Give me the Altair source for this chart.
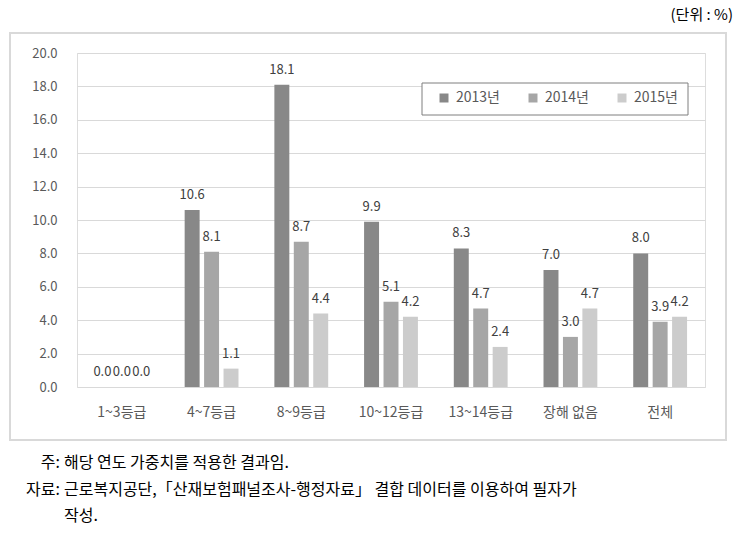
import altair as alt
import pandas as pd

categories = ["1~3등급", "4~7등급", "8~9등급", "10~12등급", "13~14등급", "장해 없음", "전체"]
years = ["2013년", "2014년", "2015년"]
v2013 = [0.0, 10.6, 18.1, 9.9, 8.3, 7.0, 8.0]
v2014 = [0.0, 8.1, 8.7, 5.1, 4.7, 3.0, 3.9]
v2015 = [0.0, 1.1, 4.4, 4.2, 2.4, 4.7, 4.2]
y_ticks = [0, 2, 4, 6, 8, 10, 12, 14, 16, 18, 20]
colors = ["#888888", "#a6a6a6", "#cccccc"]
unit_text = "(단위 : %)"
note_heads = ["주:", "자료:"]
note_lines = [
    "해당 연도 가중치를 적용한 결과임.",
    "근로복지공단,「산재보험패널조사-행정자료」 결합 데이터를 이용하여 필자가",
    "작성.",
]

FONT = "Noto Sans CJK KR"

rows = []
for yr, vals in zip(years, [v2013, v2014, v2015]):
    for c, v in zip(categories, vals):
        rows.append({"category": c, "year": yr, "value": v})
df = pd.DataFrame(rows)

W, H = 628, 334

x = alt.X("category:N", sort=categories,
          scale=alt.Scale(paddingInner=0.4, paddingOuter=0.2),
          axis=alt.Axis(title=None, labelAngle=0, domain=False, ticks=False,
                        labelPadding=18, labelFontSize=14, labelColor="#595959",
                        labelFont=FONT))
y = alt.Y("value:Q", scale=alt.Scale(domain=[0, 20], nice=False),
          axis=alt.Axis(title=None, values=y_ticks, tickCount=11, format=".1f",
                        domain=False, ticks=False, labelPadding=20, grid=True,
                        gridColor="#d9d9d9", labelOverlap=False, labelFontSize=13,
                        labelColor="#595959", labelFont=FONT))
xo = alt.XOffset("year:N", sort=years,
                 scale=alt.Scale(paddingInner=0.23, paddingOuter=0))
color = alt.Color("year:N", sort=years,
                  scale=alt.Scale(domain=years, range=colors),
                  legend=alt.Legend(title=None, orient="none", legendX=360, legendY=38,
                                    direction="horizontal", symbolType="square",
                                    symbolSize=81, symbolStrokeWidth=0,
                                    labelFontSize=14, labelColor="#595959",
                                    labelFont=FONT, labelOffset=5,
                                    columnPadding=26, padding=0))

base = alt.Chart(df)

outer = alt.Chart(pd.DataFrame({"k": [0]})).mark_rect(
    fill=None, stroke="#d9d9d9", strokeWidth=2
).encode(x=alt.value(-67), x2=alt.value(649), y=alt.value(-20), y2=alt.value(387))

bars = base.mark_bar().encode(x=x, y=y, xOffset=xo, color=color)

labels = base.mark_text(baseline="bottom", dy=-8, fontSize=13, color="#404040",
                        font=FONT).encode(
    x=x, y=y, xOffset=xo,
    text=alt.Text("value:Q", format=".1f"))

legend_box = alt.Chart(pd.DataFrame({"k": [0]})).mark_rect(
    fill="white", stroke="#7f7f7f", strokeWidth=1
).encode(x=alt.value(345), x2=alt.value(611), y=alt.value(30), y2=alt.value(62))

unit = alt.Chart(pd.DataFrame({"t": [unit_text]})).mark_text(
    align="right", baseline="middle", fontSize=15, color="#000000", font=FONT
).encode(x=alt.value(656), y=alt.value(-38), text="t:N")

heads = alt.Chart(pd.DataFrame({"t": note_heads, "yy": [410, 437]})).mark_text(
    align="right", baseline="middle", fontSize=16, color="#000000", font=FONT
).encode(x=alt.value(-17), y=alt.Y("yy:Q", scale=None), text="t:N")

bodies = alt.Chart(pd.DataFrame({"t": note_lines, "yy": [410, 437, 463]})).mark_text(
    align="left", baseline="middle", fontSize=16, color="#000000", font=FONT
).encode(x=alt.value(-13), y=alt.Y("yy:Q", scale=None), text="t:N")

chart = alt.layer(outer, bars, labels, legend_box, unit, heads, bodies).properties(
    width=W, height=H,
    autosize=alt.AutoSizeParams(type="none"),
    padding={"left": 77, "top": 53, "right": 36, "bottom": 154},
).configure_view(stroke="#7f7f7f", strokeWidth=1).configure(background="white")

chart.save("out.html", embed_options={"renderer": "svg", "actions": False})
